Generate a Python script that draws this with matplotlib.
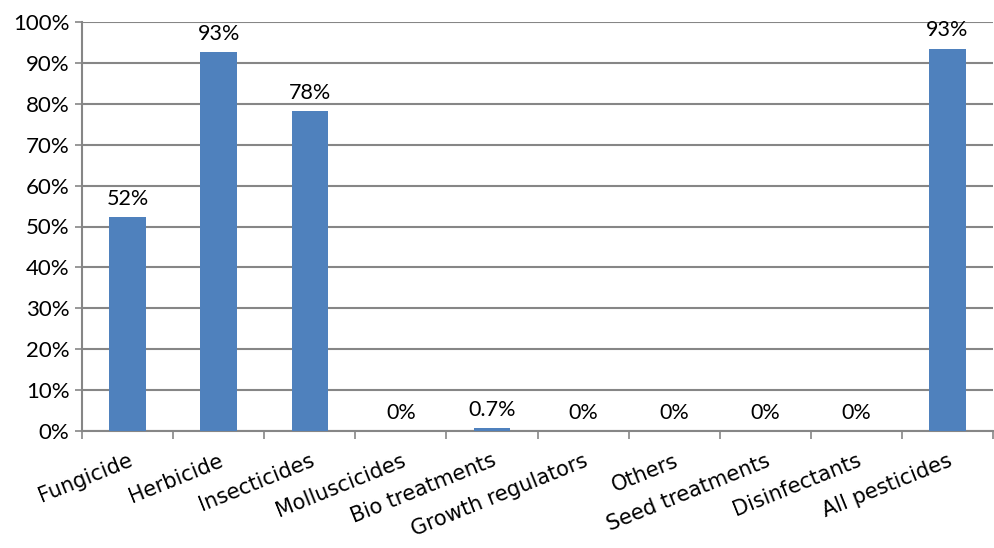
import matplotlib
matplotlib.use("Agg")
import matplotlib.pyplot as plt
import numpy as np
from matplotlib.ticker import FixedLocator, NullFormatter

categories = ["Fungicide", "Herbicide", "Insecticides", "Molluscicides", "Bio treatments",
              "Growth regulators", "Others", "Seed treatments", "Disinfectants", "All pesticides"]
values = [52.3, 92.7, 78.2, 0.0, 0.7, 0.0, 0.0, 0.0, 0.0, 93.5]
value_labels = ["52%", "93%", "78%", "0%", "0.7%", "0%", "0%", "0%", "0%", "93%"]
yticks = [0, 10, 20, 30, 40, 50, 60, 70, 80, 90, 100]

fig = plt.figure(figsize=(9.95, 5.48), dpi=100)
ax = fig.add_axes([82/995, 1-431/548, (993-82)/995, (431-22)/548])

x = np.arange(len(categories))
bars = ax.bar(x, values, width=0.4, color="#4F81BD", zorder=3)

ax.set_xlim(-0.5, len(categories) - 0.5)
ax.set_ylim(0, 100)
ax.set_yticks(yticks)
ax.set_yticklabels([f"{v}%" for v in yticks], fontsize=16, family=["Lato", "DejaVu Sans"])
ax.yaxis.grid(True, color="#868686", linewidth=1.5, zorder=0)
ax.tick_params(axis="y", length=5, width=1.2, color="#868686", pad=4)

# category boundary ticks
ax.xaxis.set_major_locator(FixedLocator(np.arange(len(categories) + 1) - 0.5))
ax.xaxis.set_major_formatter(NullFormatter())
ax.xaxis.set_minor_locator(FixedLocator(x))
ax.set_xticklabels(categories, minor=True, rotation=22, ha="right", rotation_mode="anchor",
                   fontsize=15, family=["DejaVu Sans"])
ax.tick_params(axis="x", which="major", length=6, width=1.2, color="#868686", direction="out")
ax.tick_params(axis="x", which="minor", length=0, pad=14)

for s in ["top", "right"]:
    ax.spines[s].set_visible(False)
for s in ["left", "bottom"]:
    ax.spines[s].set_color("#868686")
    ax.spines[s].set_linewidth(1.5)

for xi, v, lab in zip(x, values, value_labels):
    ax.annotate(lab, (xi, v), xytext=(0, 6), textcoords="offset points",
                ha="center", va="bottom", fontsize=15.5, family=["Lato", "DejaVu Sans"])

fig.savefig("out.png", dpi=100)
